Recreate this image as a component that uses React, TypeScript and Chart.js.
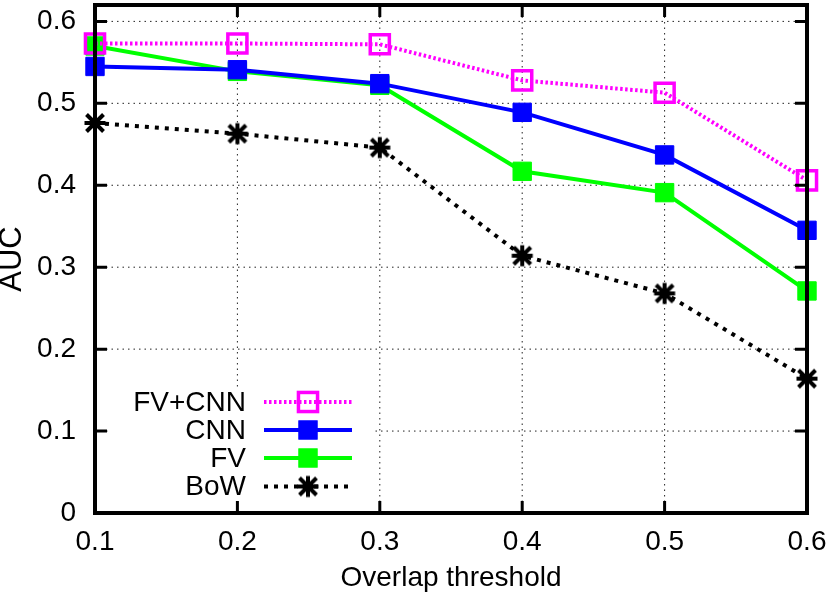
import React, { useEffect, useRef } from "react";
import { Chart, registerables } from "chart.js";

Chart.register(...registerables);

const thresholds = [0.1, 0.2, 0.3, 0.4, 0.5, 0.6];
const fvCnnValues = [0.573, 0.573, 0.572, 0.528, 0.513, 0.406];
const cnnValues = [0.545, 0.541, 0.524, 0.489, 0.437, 0.345];
const fvValues = [0.57, 0.539, 0.522, 0.417, 0.391, 0.271];
const bowValues = [0.476, 0.463, 0.446, 0.314, 0.268, 0.164];
const seriesNames = ["FV+CNN", "CNN", "FV", "BoW"];
const xTitle = "Overlap threshold";
const yTitle = "AUC";

const FONT_FAMILY = '"Liberation Sans", Arial, Helvetica, sans-serif';
const FONT_SIZE = 28;

function makeStar(): HTMLCanvasElement {
  const size = 28;
  const c = document.createElement("canvas");
  c.width = size;
  c.height = size;
  const g = c.getContext("2d")!;
  const m = size / 2;
  const r = 10.5;
  const d = 8.5;
  g.strokeStyle = "#000";
  g.lineWidth = 4;
  g.beginPath();
  g.moveTo(m - r, m);
  g.lineTo(m + r, m);
  g.moveTo(m, m - r);
  g.lineTo(m, m + r);
  g.moveTo(m - d, m - d);
  g.lineTo(m + d, m + d);
  g.moveTo(m - d, m + d);
  g.lineTo(m + d, m - d);
  g.stroke();
  return c;
}

const toPoints = (vals: number[]) => thresholds.map((x, i) => ({ x, y: vals[i] }));

const zeroPad = (s: any) => {
  s.paddingTop = 0;
  s.paddingBottom = 0;
  s.paddingLeft = 0;
  s.paddingRight = 0;
};

export default function App() {
  const ref = useRef<HTMLCanvasElement | null>(null);

  useEffect(() => {
    const canvas = ref.current!;
    const star = makeStar();

    const styles = [
      { color: "#ff00ff", width: 4, dash: [2.5, 2.5], marker: "hollow", r: 13.5 },
      { color: "#0000ff", width: 4, dash: [] as number[], marker: "filled", r: 13 },
      { color: "#00ff00", width: 4, dash: [] as number[], marker: "filled", r: 13 },
      { color: "#000000", width: 4, dash: [4, 6], marker: "star", r: 10 },
    ];
    const allValues = [fvCnnValues, cnnValues, fvValues, bowValues];

    const datasets = allValues.map((vals, i) => {
      const s = styles[i];
      return {
        label: seriesNames[i],
        data: toPoints(vals),
        borderColor: s.color,
        borderWidth: s.width,
        borderDash: s.dash,
        borderCapStyle: "butt" as const,
        tension: 0,
        fill: false,
        clip: false as any,
        pointStyle: s.marker === "star" ? (star as any) : "rect",
        pointRadius: s.r,
        pointHoverRadius: s.r,
        pointBorderWidth: s.marker === "hollow" ? 3.5 : 1,
        pointBorderColor: s.color,
        pointBackgroundColor: s.marker === "hollow" ? "rgba(0,0,0,0)" : s.color,
        order: i === 1 ? 0 : i === 0 ? -1 : i,
      };
    });

    const framePlugin = {
      id: "gnuplotFrame",
      beforeDatasetsDraw(chart: any) {
        const { ctx, chartArea: a, scales } = chart;
        ctx.save();
        ctx.strokeStyle = "#222";
        ctx.lineWidth = 1;
        ctx.setLineDash([1.5, 4]);
        for (const t of scales.x.ticks) {
          const px = scales.x.getPixelForValue(t.value);
          if (px <= a.left + 2 || px >= a.right - 2) continue;
          ctx.beginPath();
          ctx.moveTo(px, a.bottom);
          ctx.lineTo(px, a.top);
          ctx.stroke();
        }
        for (const t of scales.y.ticks) {
          const py = scales.y.getPixelForValue(t.value);
          if (py <= a.top + 2 || py >= a.bottom - 2) continue;
          ctx.beginPath();
          ctx.moveTo(a.left, py);
          ctx.lineTo(a.right, py);
          ctx.stroke();
        }
        ctx.setLineDash([]);
        // key box (opaque)
        ctx.fillStyle = "#fff";
        ctx.fillRect(108, 388, 264, 114);
        ctx.restore();
      },
      afterDatasetsDraw(chart: any) {
        const { ctx, chartArea: a, scales } = chart;
        ctx.save();
        ctx.strokeStyle = "#000";
        ctx.lineWidth = 3;
        const tl = 12;
        for (const t of scales.x.ticks) {
          const px = scales.x.getPixelForValue(t.value);
          ctx.beginPath();
          ctx.moveTo(px, a.bottom);
          ctx.lineTo(px, a.bottom - tl);
          ctx.moveTo(px, a.top);
          ctx.lineTo(px, a.top + tl);
          ctx.stroke();
        }
        for (const t of scales.y.ticks) {
          const py = scales.y.getPixelForValue(t.value);
          ctx.beginPath();
          ctx.moveTo(a.left, py);
          ctx.lineTo(a.left + tl, py);
          ctx.moveTo(a.right, py);
          ctx.lineTo(a.right - tl, py);
          ctx.stroke();
        }
        ctx.lineWidth = 4;
        ctx.strokeRect(a.left, a.top, a.right - a.left, a.bottom - a.top);
        ctx.restore();
      },
      afterDraw(chart: any) {
        const { ctx } = chart;
        ctx.save();
        const textRight = 246;
        const x0 = 264;
        const x1 = 352;
        const mx = 308;
        const rows = [402, 430, 458, 486.5];
        ctx.font = `${FONT_SIZE}px ${FONT_FAMILY}`;
        ctx.textAlign = "right";
        ctx.textBaseline = "middle";
        styles.forEach((s, i) => {
          const y = rows[i];
          ctx.fillStyle = "#000";
          ctx.fillText(seriesNames[i], textRight, y + 1);
          ctx.strokeStyle = s.color;
          ctx.lineWidth = s.width;
          ctx.lineCap = "butt";
          ctx.setLineDash(s.dash);
          ctx.beginPath();
          ctx.moveTo(x0, y);
          ctx.lineTo(x1, y);
          ctx.stroke();
          ctx.setLineDash([]);
          if (s.marker === "star") {
            ctx.drawImage(star, mx - star.width / 2, y - star.height / 2);
          } else {
            const half = (Math.SQRT2 * s.r) / 2;
            if (s.marker === "filled") {
              ctx.fillStyle = s.color;
              ctx.fillRect(mx - half, y - half, 2 * half, 2 * half);
              ctx.lineWidth = 1;
              ctx.strokeRect(mx - half, y - half, 2 * half, 2 * half);
            } else {
              ctx.lineWidth = 3.5;
              ctx.strokeRect(mx - half, y - half, 2 * half, 2 * half);
            }
          }
        });
        ctx.restore();
      },
    };

    const font = { family: FONT_FAMILY, size: FONT_SIZE };

    const chart = new Chart(canvas, {
      type: "line",
      data: { datasets: datasets as any },
      options: {
        animation: false,
        responsive: false,
        events: [],
        layout: { autoPadding: false, padding: { left: 0, right: 23, top: 5, bottom: 0 } },
        plugins: {
          legend: { display: false },
          tooltip: { enabled: false },
        },
        scales: {
          x: {
            type: "linear",
            min: 0.1,
            max: 0.6,
            afterFit: (s: any) => {
              s.height = 87;
              zeroPad(s);
            },
            grid: { display: false, drawTicks: false },
            border: { display: false },
            ticks: {
              stepSize: 0.1,
              padding: 12,
              color: "#000",
              font,
              maxRotation: 0,
              callback: (v: any) => Number(v).toFixed(1),
            },
            title: {
              display: true,
              text: xTitle,
              color: "#000",
              font: { ...font, lineHeight: 1.2 },
              padding: { top: 0, bottom: 5 },
            },
          },
          y: {
            type: "linear",
            min: 0,
            max: 0.62,
            afterFit: (s: any) => {
              s.width = 95;
              zeroPad(s);
            },
            grid: { display: false, drawTicks: false },
            border: { display: false },
            ticks: {
              stepSize: 0.1,
              includeBounds: false,
              padding: 19,
              color: "#000",
              font,
              callback: (v: any) => (Number(v) === 0 ? "0" : Number(v).toFixed(1)),
            },
            title: {
              display: true,
              text: yTitle,
              color: "#000",
              font: { family: FONT_FAMILY, size: 31, lineHeight: 0.8 },
              padding: { top: 0, bottom: 0 },
            },
          },
        },
      },
      plugins: [framePlugin],
    });

    return () => chart.destroy();
  }, []);

  return (
    <div style={{ position: "absolute", left: 0, top: 0, width: 830, height: 600, background: "#fff" }}>
      <canvas ref={ref} width={830} height={600} />
    </div>
  );
}
